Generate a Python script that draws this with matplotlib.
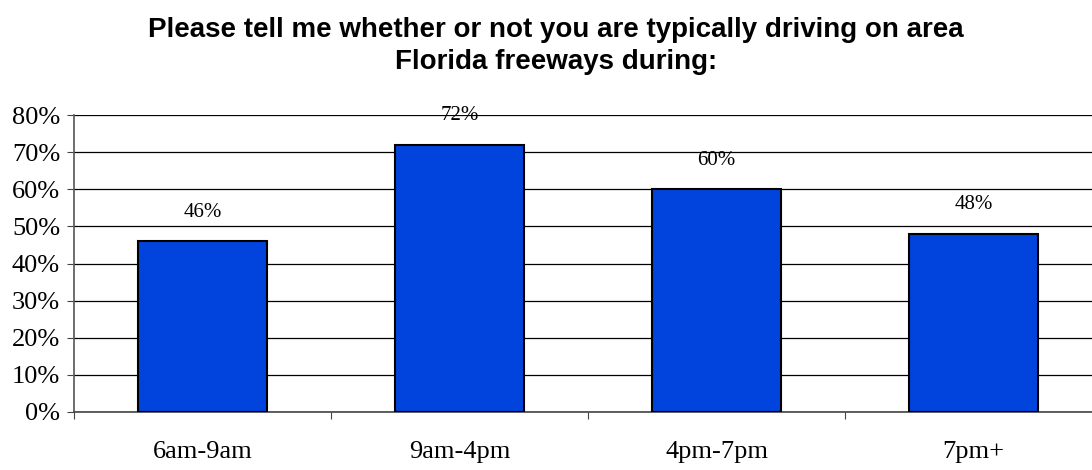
import matplotlib.pyplot as plt
import numpy as np

# survey data
categories = ['6am-9am', '9am-4pm', '4pm-7pm', '7pm+']
shares = [46, 72, 60, 48]
y_ticks = [0, 10, 20, 30, 40, 50, 60, 70, 80]

title = ('Please tell me whether or not you are typically driving on area\n'
         'Florida freeways during:')

fig = plt.figure(figsize=(10.92, 4.70), dpi=100)
ax = fig.add_axes([74 / 1092, 58 / 470, 1028 / 1092, 297 / 470])

x = np.arange(len(categories))
bars = ax.bar(x, shares, width=0.5, color='#0044dd', edgecolor='black',
              linewidth=1.5, zorder=3)

ax.set_xlim(-0.5, len(categories) - 0.5)
ax.set_ylim(0, 80)
ax.set_yticks(y_ticks)
ax.set_yticklabels([f'{v}%' for v in y_ticks], family='Liberation Serif', fontsize=19)
ax.yaxis.grid(True, color='black', linewidth=0.9, zorder=0)
ax.set_axisbelow(True)

# category labels between boundary ticks
ax.set_xticks(np.arange(len(categories) + 1) - 0.5)
ax.set_xticklabels([])
ax.set_xticks(x, minor=True)
ax.set_xticklabels(categories, minor=True, family='Liberation Serif', fontsize=19)
ax.tick_params(axis='x', which='minor', length=0, pad=21)
ax.tick_params(axis='x', which='major', length=5, color='#444444')
ax.tick_params(axis='y', length=5, color='#444444', pad=5)

for side in ['top', 'right']:
    ax.spines[side].set_visible(False)
ax.spines['left'].set_color('#555555')
ax.spines['bottom'].set_color('#444444')
ax.spines['left'].set_linewidth(1.2)
ax.spines['bottom'].set_linewidth(1.2)

for b, v in zip(bars, shares):
    ax.annotate(f'{v}%', (b.get_x() + b.get_width() / 2, v), xytext=(0, 21),
                textcoords='offset points', ha='center', va='center',
                family='Liberation Serif', fontsize=15, annotation_clip=False)

fig.text(556 / 1092, 1 - 46 / 470, title, ha='center', va='center', fontsize=20,
         fontweight='bold', family='Liberation Sans', linespacing=1.3)

fig.savefig('out.png', dpi=100)
